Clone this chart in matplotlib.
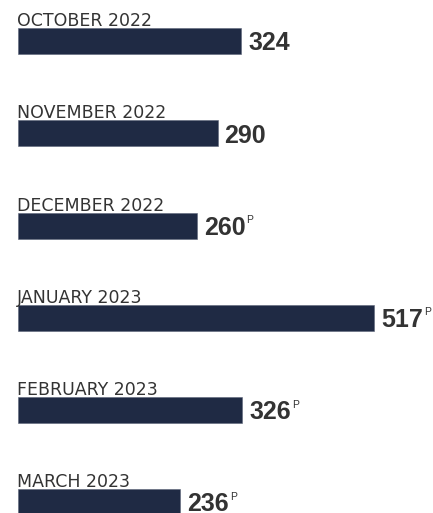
import matplotlib
matplotlib.use("Agg")
import matplotlib.pyplot as plt
from matplotlib import font_manager as fm

months = ["OCTOBER 2022", "NOVEMBER 2022", "DECEMBER 2022",
          "JANUARY 2023", "FEBRUARY 2023", "MARCH 2023"]
values = [324, 290, 260, 517, 326, 236]
preliminary = [False, False, True, True, True, True]

BAR_COLOR = "#1f2a44"
TEXT_COLOR = "#333333"


def find_font(name, weight):
    cands = [f for f in fm.fontManager.ttflist
             if f.name == name and "narrow" not in f.fname.lower()
             and f.style == "normal"]
    if not cands:
        return fm.FontProperties(family="DejaVu Sans", weight=weight)
    w = 700 if weight == "bold" else 400
    best = min(cands, key=lambda f: abs((f.weight if isinstance(f.weight, int) else (700 if f.weight == "bold" else 400)) - w))
    return fm.FontProperties(fname=best.fname)


val_font = find_font("Liberation Sans", "bold")
val_font.set_size(18)
sup_font = find_font("Liberation Sans", "normal")
sup_font.set_size(7.5)

fig = plt.figure(figsize=(4.33, 5.13), dpi=100)
ax = fig.add_axes([0, 0, 1, 1])
ax.set_xlim(-26.14, 602.8)
ax.set_ylim(5.1166, -0.4468)
ax.axis("off")

ypos = list(range(len(values)))
ax.barh(ypos, values, height=0.282, color=BAR_COLOR,
        edgecolor="#5d6479", linewidth=0.4)

value_texts = []
for y, v, m, p in zip(ypos, values, months, preliminary):
    ax.annotate(m, xy=(0, y - 0.141), xytext=(-0.5, 1.5),
                textcoords="offset points", ha="left", va="baseline",
                fontsize=12.5, family="DejaVu Sans", color=TEXT_COLOR)
    t = ax.annotate(str(v), xy=(v, y), xytext=(5.0, -6.6),
                    textcoords="offset points", ha="left", va="baseline",
                    fontproperties=val_font, color=TEXT_COLOR)
    value_texts.append((t, p))

fig.canvas.draw()
renderer = fig.canvas.get_renderer()
for t, p in value_texts:
    if not p:
        continue
    bb = t.get_window_extent(renderer)
    # baseline of value text in pixels
    x_disp, y_disp = t.get_transform().transform(t.xyann) if False else (None, None)
    base_y = ax.transData.transform(t.xy)[1] - 6.6 * 100 / 72
    fig.text((bb.x1 + 1.0) / fig.bbox.width, (base_y + 11.5) / fig.bbox.height,
             "P", ha="left", va="baseline",
             fontproperties=sup_font, color=TEXT_COLOR)

fig.savefig("out.png", dpi=100)
